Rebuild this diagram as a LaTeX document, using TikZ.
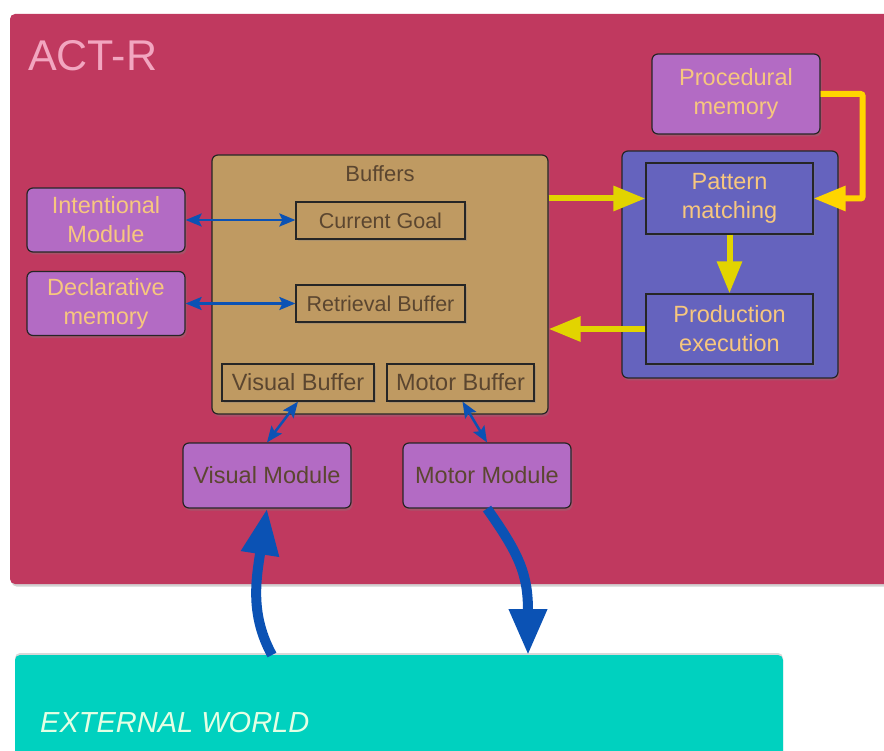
\documentclass[tikz,border=0pt]{standalone}
\usepackage{fontspec}
\setmainfont{Liberation Sans}
\usetikzlibrary{positioning,calc,arrows.meta,shadows}
\definecolor{actred}{HTML}{C0395F}
\definecolor{actpink}{HTML}{F2A6C0}
\definecolor{modpurple}{HTML}{B36BC4}
\definecolor{prodblue}{HTML}{6563BE}
\definecolor{buftan}{HTML}{BF9A62}
\definecolor{worldteal}{HTML}{00D1BF}
\definecolor{worldtext}{HTML}{E4FFE4}
\definecolor{labelgold}{HTML}{F7C77E}
\definecolor{labelbrown}{HTML}{5B4630}
\definecolor{flowyellow}{HTML}{E2D400}
\definecolor{procyellow}{HTML}{FFD500}
\definecolor{linkblue}{HTML}{0B52B4}
\tikzset{
  boxshadow/.style={drop shadow={shadow xshift=1.5pt,shadow yshift=-2.5pt,opacity=0.35}},
  edgebox/.style={draw=black!85,line width=1.2pt,inner sep=0pt,boxshadow},
  modbox/.style={edgebox,fill=modpurple,rounded corners=6pt,align=center,
    minimum width=158pt,minimum height=64pt,font=\fontsize{23.5}{29}\selectfont},
  bufbox/.style={edgebox,fill=buftan,text=labelbrown,minimum height=37pt},
  rulebox/.style={edgebox,fill=prodblue,text=labelgold,align=center,
    minimum width=167pt,minimum height=71pt,font=\fontsize{23.5}{29}\selectfont},
  flow/.style={line width=6pt,-{Triangle[length=32pt,width=24pt]}},
  link/.style={line width=2.5pt,linkblue,{Stealth[length=16pt,width=13pt,inset=3pt]}-{Stealth[length=16pt,width=13pt,inset=3pt]}},
  perceive/.style={line width=10pt,linkblue,-{Triangle[length=46pt,width=36pt]}}
}
\begin{document}
\begin{tikzpicture}[x=1pt,y=-1pt]
  \useasboundingbox (0,0) rectangle (884,751);
  \fill[white] (0,0) rectangle (884,751);
  \fill[actred,boxshadow,rounded corners=5pt] (10,14) rectangle (900,584);
  \node[anchor=base west,inner sep=0pt,text=actpink,font=\fontsize{43}{43}\selectfont] (actlabel) at (28,71) {ACT-R};
  \fill[worldteal,drop shadow={shadow xshift=0pt,shadow yshift=2pt,opacity=0.3},rounded corners=5pt] (15,655) rectangle (783,770);
  \node[anchor=base west,inner sep=0pt,text=worldtext,font=\fontsize{29}{29}\selectfont\itshape] (worldlabel) at (40,732) {EXTERNAL WORLD};
  \coordinate (world) at (399,655);

  \node[edgebox,fill=buftan,rounded corners=6pt,minimum width=336pt,minimum height=259pt] (buffers) at (380,284.5) {};
  \node[anchor=base,inner sep=0pt,text=labelbrown,font=\fontsize{22}{22}\selectfont] (buflabel) at (380,182) {Buffers};
  \node[bufbox,minimum width=169pt,font=\fontsize{21.5}{26}\selectfont] (goal) at (380.5,220.5) {Current Goal};
  \node[bufbox,minimum width=169pt,font=\fontsize{21.5}{26}\selectfont] (retrieval) at (380.5,303.5) {Retrieval Buffer};
  \node[bufbox,minimum width=152pt,font=\fontsize{23.5}{26}\selectfont] (visbuf) at (298,382.5) {Visual Buffer};
  \node[bufbox,minimum width=147pt,font=\fontsize{23.5}{26}\selectfont] (motbuf) at (460.5,382.5) {Motor Buffer};

  \node[modbox,text=labelgold] (intent) at (106,220) {Intentional\\Module};
  \node[modbox,text=labelgold] (declar) at (106,303.5) {Declarative\\memory};
  \node[modbox,text=labelgold,minimum width=168pt,minimum height=80pt] (procmem) at (736,94) {Procedural\\memory};
  \node[modbox,text=labelbrown,minimum width=168pt,minimum height=65pt] (vismod) at (267,475.5) {Visual Module};
  \node[modbox,text=labelbrown,minimum width=168pt,minimum height=65pt] (motmod) at (487,475.5) {Motor Module};

  \node[edgebox,fill=prodblue,rounded corners=6pt,minimum width=216pt,minimum height=227pt] (prodpanel) at (730,264.5) {};
  \node[rulebox] (match) at (729.5,198.5) {Pattern\\matching};
  \node[rulebox,minimum height=70pt] (exec) at (729.5,329) {Production\\execution};

  \draw[flow,flowyellow] (buffers.east |- match.west) -- (match.west);
  \draw[flow,procyellow,rounded corners=2pt] (procmem.east) -- ++(42,0) |- (match.east);
  \draw[flow,flowyellow] (match) -- (exec);
  \draw[flow,flowyellow] (exec.west) -- (exec.west -| buffers.east);

  \draw[link] (intent.east) -- (intent.east -| goal.west);
  \draw[link] (declar.east) -- (declar.east -| retrieval.west);
  \draw[link] (visbuf.south) -- (vismod.north);
  \draw[link] ([xshift=2pt]motbuf.south) -- (motmod.north);

  \draw[perceive] ([xshift=5pt]vismod.south |- world) .. controls (250,615) and (256,580) .. (vismod.south);
  \draw[perceive] (motmod.south) .. controls (520,555) and (528,575) .. ([xshift=41pt]motmod.south |- world);
\end{tikzpicture}
\end{document}
